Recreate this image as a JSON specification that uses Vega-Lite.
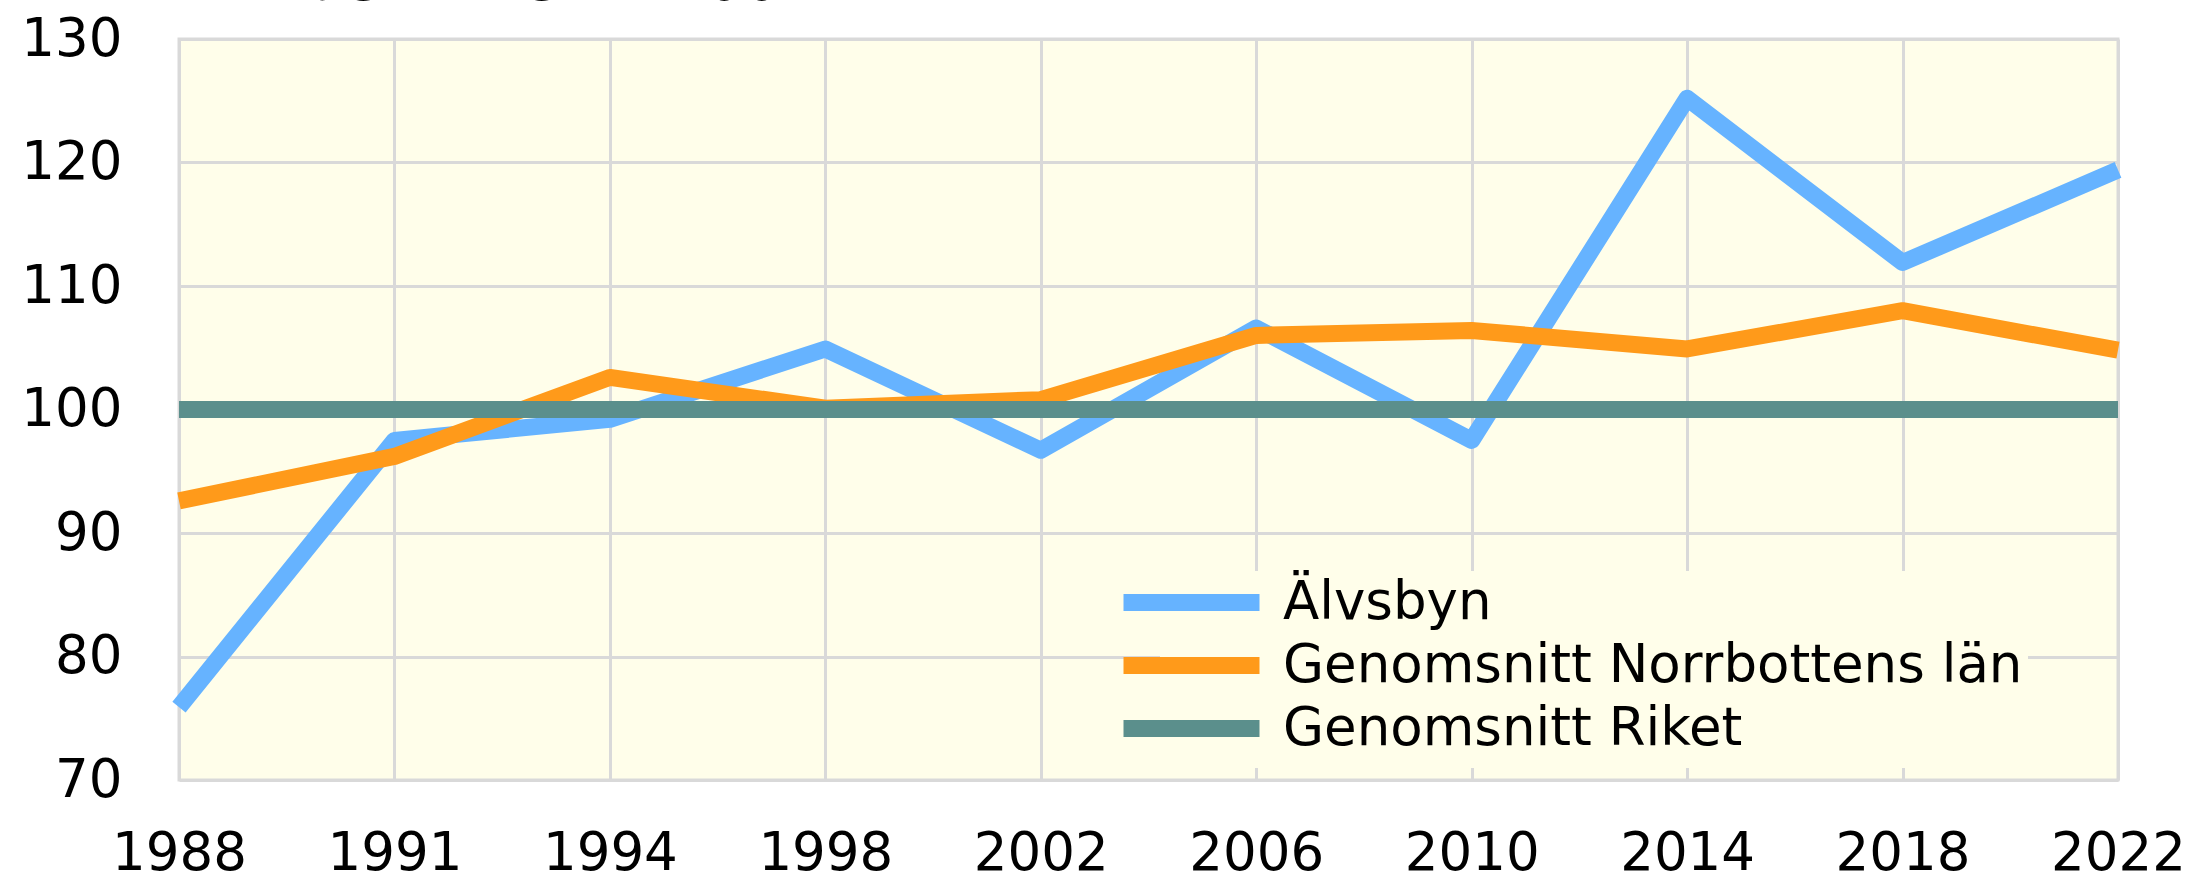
{
  "$schema": "https://vega.github.io/schema/vega-lite/v6.json",
  "width": 1939,
  "height": 741,
  "autosize": {"type": "none"},
  "padding": {"left": 179, "top": 39, "right": 73, "bottom": 98},
  "background": "white",
  "title": {"text": "Index Riket = 100", "anchor": "start", "frame": "group", "fontSize": 59, "font": "DejaVu Sans", "fontWeight": "normal", "color": "black", "offset": 1, "dx": 72},
  "config": {
    "view": {"fill": "#FFFEEA", "stroke": "#d9d9d9", "strokeWidth": 3},
    "axis": {"labelFont": "DejaVu Sans", "labelFontSize": 53, "labelColor": "black", "ticks": false, "domain": false, "grid": true, "gridColor": "#d9d9d9", "gridWidth": 3, "title": null, "labelFlush": false, "labelOverlap": false}
  },
  "data": {
    "values": [
      {"year": "1988", "series": "Älvsbyn", "value": 75.9},
      {"year": "1991", "series": "Älvsbyn", "value": 97.5},
      {"year": "1994", "series": "Älvsbyn", "value": 99.2},
      {"year": "1998", "series": "Älvsbyn", "value": 104.9},
      {"year": "2002", "series": "Älvsbyn", "value": 96.7},
      {"year": "2006", "series": "Älvsbyn", "value": 106.6},
      {"year": "2010", "series": "Älvsbyn", "value": 97.5},
      {"year": "2014", "series": "Älvsbyn", "value": 125.2},
      {"year": "2018", "series": "Älvsbyn", "value": 111.9},
      {"year": "2022", "series": "Älvsbyn", "value": 119.4},
      {"year": "1988", "series": "Genomsnitt Norrbottens län", "value": 92.6},
      {"year": "1991", "series": "Genomsnitt Norrbottens län", "value": 96.2},
      {"year": "1994", "series": "Genomsnitt Norrbottens län", "value": 102.6},
      {"year": "1998", "series": "Genomsnitt Norrbottens län", "value": 100.1},
      {"year": "2002", "series": "Genomsnitt Norrbottens län", "value": 100.8},
      {"year": "2006", "series": "Genomsnitt Norrbottens län", "value": 106.0},
      {"year": "2010", "series": "Genomsnitt Norrbottens län", "value": 106.4},
      {"year": "2014", "series": "Genomsnitt Norrbottens län", "value": 104.9},
      {"year": "2018", "series": "Genomsnitt Norrbottens län", "value": 108.0},
      {"year": "2022", "series": "Genomsnitt Norrbottens län", "value": 104.8},
      {"year": "1988", "series": "Genomsnitt Riket", "value": 100},
      {"year": "1991", "series": "Genomsnitt Riket", "value": 100},
      {"year": "1994", "series": "Genomsnitt Riket", "value": 100},
      {"year": "1998", "series": "Genomsnitt Riket", "value": 100},
      {"year": "2002", "series": "Genomsnitt Riket", "value": 100},
      {"year": "2006", "series": "Genomsnitt Riket", "value": 100},
      {"year": "2010", "series": "Genomsnitt Riket", "value": 100},
      {"year": "2014", "series": "Genomsnitt Riket", "value": 100},
      {"year": "2018", "series": "Genomsnitt Riket", "value": 100},
      {"year": "2022", "series": "Genomsnitt Riket", "value": 100}
    ]
  },
  "mark": {"type": "line", "strokeWidth": 17, "strokeJoin": "round"},
  "encoding": {
    "x": {"field": "year", "type": "ordinal", "sort": null, "scale": {"type": "point", "padding": 0}, "axis": {"labelAngle": 0, "labelPadding": 47}},
    "y": {"field": "value", "type": "quantitative", "scale": {"domain": [70, 130], "nice": false, "zero": false}, "axis": {"values": [70, 80, 90, 100, 110, 120, 130], "labelPadding": 57}},
    "color": {
      "field": "series", "type": "nominal",
      "scale": {"domain": ["Älvsbyn", "Genomsnitt Norrbottens län", "Genomsnitt Riket"], "range": ["#66B3FF", "#FF9A1A", "#5B8F8C"]},
      "legend": {"orient": "none", "legendX": 981, "legendY": 532, "title": null, "fillColor": "#FFFEEA", "padding": 5, "symbolType": "M-4.533,0H4.533", "symbolSize": 900, "symbolStrokeWidth": 17, "labelFont": "DejaVu Sans", "labelFontSize": 53, "labelColor": "black", "labelOffset": 65, "labelLimit": 0, "rowPadding": -6}
    },
    "order": {"field": "series", "sort": "ascending"}
  }
}
